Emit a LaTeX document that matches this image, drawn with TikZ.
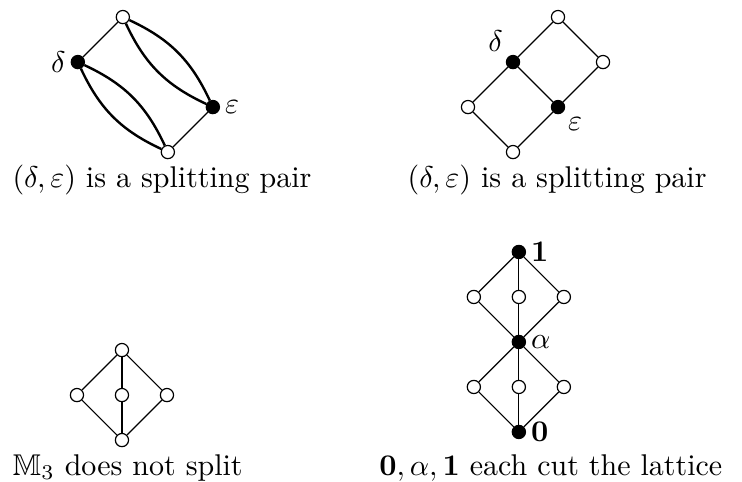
\documentclass[tikz,border=0pt]{standalone}
\usepackage{amsmath,amssymb}
\usepackage{tikz}
\usetikzlibrary{positioning}
\tikzset{
  el/.style={circle,draw,fill=white,inner sep=0pt,minimum size=4.4pt},
  elfull/.style={el,fill=black},
  lab/.style={inner sep=1.5pt},
}
\begin{document}
\begin{tikzpicture}[x=15pt,y=15pt]
\useasboundingbox (0,0) rectangle (16.489,10.689);
% splitting pair, curved
\begin{scope}[shift={(3.73,7.31)}]
\node[el] (a0) at (0,0) {};
\node[elfull,label={[lab]right:$\varepsilon$}] (ae) at (1,1) {};
\node[elfull,label={[lab]left:$\delta$}] (ad) at (-2,2) {};
\node[el] (a1) at (-1,3) {};
\draw (a1) -- (ad) (ae) -- (a0);
\draw[thick] (a1) to[bend left=20] (ae) (a1) to[bend right=20] (ae);
\draw[thick] (ad) to[bend left=20] (a0) (ad) to[bend right=20] (a0);
\end{scope}
\node[anchor=base] (capa) at (3.6,6.53) {$(\delta,\varepsilon)$ is a splitting pair};
% splitting pair, 2x3
\begin{scope}[shift={(11.4,7.31)}]
\node[el] (b0) at (0,0) {};
\node[el] (bl) at (-1,1) {};
\node[elfull,label={[lab]below right:$\varepsilon$}] (be) at (1,1) {};
\node[elfull,label={[lab]above left:$\delta$}] (bd) at (0,2) {};
\node[el] (br) at (2,2) {};
\node[el] (b1) at (1,3) {};
\draw (b0) -- (bl) -- (bd) -- (b1) -- (br) -- (be) -- (b0) (bd) -- (be);
\end{scope}
\node[anchor=base] (capb) at (12.38,6.53) {$(\delta,\varepsilon)$ is a splitting pair};
% M3
\begin{scope}[shift={(2.71,0.91)}]
\node[el] (c0) at (0,0) {};
\foreach \x/\n in {-1/l,0/m,1/r} \node[el] (c\n) at (\x,1) {};
\node[el] (c1) at (0,2) {};
\foreach \n in {l,m,r} \draw (c0) -- (c\n) -- (c1);
\end{scope}
\node[anchor=base] (capc) at (2.84,0.133) {$\mathbb{M}_3$ does not split};
% M3 glued to M3
\begin{scope}[shift={(11.53,1.09)}]
\node[elfull,label={[lab]right:$\mathbf{0}$}] (d0) at (0,0) {};
\node[elfull,label={[lab]right:$\alpha$}] (da) at (0,2) {};
\node[elfull,label={[lab]right:$\mathbf{1}$}] (d1) at (0,4) {};
\foreach \x/\n in {-1/l,0/m,1/r} {
  \node[el] (dd\n) at (\x,1) {};
  \node[el] (du\n) at (\x,3) {};
  \draw (d0) -- (dd\n) -- (da) -- (du\n) -- (d1);
}
\end{scope}
\node[anchor=base] (capd) at (12.24,0.133) {$\mathbf{0},\alpha,\mathbf{1}$ each cut the lattice};
\end{tikzpicture}
\end{document}
